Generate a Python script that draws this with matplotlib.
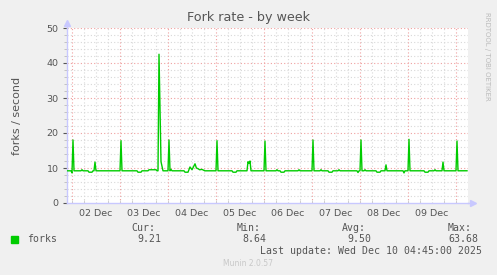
"""Munin 'Fork rate - by week' graph, redrawn with matplotlib."""

import matplotlib
matplotlib.use("Agg")
import matplotlib.pyplot as plt
import numpy as np

# hours since 02 Dec 00:00, and forks/second
hours = [
    -2.5, -0.5, 0, 0.5, 1.0, 4.5, 5, 5.5, 8, 8.5, 10, 10.5,
    11, 11.5, 12, 24, 24.5, 25, 32.5, 33, 34.5, 35,
    38, 38.5, 42, 42.5, 43, 43.5, 44.5, 45.5, 48, 48.5, 49, 49.5, 50,
    56, 56.5, 58, 59, 60, 61.5, 62.2, 63, 63.8, 65, 66.4,
    72, 72.5, 73, 80, 80.5, 82, 82.5, 87.5, 88, 88.5, 89, 89.5,
    96, 96.5, 97, 102, 102.5, 103, 104, 104.5, 106, 106.5,
    113, 113.5, 114, 120, 120.5, 121, 124, 124.5, 125,
    128, 128.5, 130, 130.5, 133, 133.5, 134,
    142.5, 143, 143.5, 144, 144.5, 145, 146, 146.5, 147,
    152, 152.5, 154, 154.5, 156.5, 157, 157.5,
    165.5, 166, 166.5, 168, 168.5, 169, 176, 176.5, 178, 178.5,
    181, 181.5, 182, 185, 185.5, 186, 192, 192.5, 193, 197.5,
]
forks = [
    9.2, 9.2, 8.6, 18.0, 9.2, 9.2, 9.5, 9.2, 9.2, 8.8, 8.8, 9.2,
    9.2, 11.7, 9.2, 9.2, 17.8, 9.2, 9.2, 8.8, 8.8, 9.2,
    9.2, 9.5, 9.5, 9.2, 9.2, 42.5, 11.8, 9.2, 9.2, 18.0, 9.2, 9.6, 9.2,
    9.2, 8.8, 8.8, 10.3, 9.5, 11.2, 10.0, 9.8, 9.5, 9.6, 9.2,
    9.2, 17.8, 9.2, 9.2, 8.8, 8.8, 9.2, 9.2, 11.8, 11.3, 12.0, 9.2,
    9.2, 17.7, 9.2, 9.2, 9.5, 9.2, 9.2, 8.8, 8.8, 9.2,
    9.2, 9.5, 9.2, 9.2, 18.0, 9.2, 9.2, 9.5, 9.2,
    9.2, 8.8, 8.8, 9.2, 9.2, 9.5, 9.2,
    9.2, 8.7, 9.2, 9.2, 18.0, 9.2, 9.2, 9.5, 9.2,
    9.2, 8.8, 8.8, 9.2, 9.2, 10.9, 9.2,
    9.2, 8.6, 9.2, 9.2, 18.2, 9.2, 9.2, 8.8, 8.8, 9.2,
    9.2, 9.5, 9.2, 9.2, 11.7, 9.2, 9.2, 17.7, 9.2, 9.21,
]

day_labels = ["02 Dec", "03 Dec", "04 Dec", "05 Dec",
              "06 Dec", "07 Dec", "08 Dec", "09 Dec"]
stat_names = ["Cur:", "Min:", "Avg:", "Max:"]
stat_values = ["9.21", "8.64", "9.50", "63.68"]

BG = "#F0F0F0"
GREEN = "#00CC00"
TXT = "#555555"
AXIS = "#C8C8FF"
MONO = "DejaVu Sans Mono"

W, H = 497, 275
fig = plt.figure(figsize=(W / 100, H / 100), dpi=100, facecolor=BG)
ax = fig.add_axes([67 / W, 1 - 203 / H, (468 - 67) / W, 175 / H])
ax.set_facecolor("white")

ax.set_xlim(-2.5, 198)
ax.set_ylim(0, 50)

# grid: grey dotted minor, red dotted major
dots = (0, (1, 2))
ax.set_yticks(np.arange(0, 51, 10))
ax.set_yticks(np.arange(0, 51, 2), minor=True)
for v in np.arange(2, 51, 2):
    col = "#F0A0A0" if v % 10 == 0 else "#D8D8D8"
    ax.axhline(v, color=col, lw=0.8, ls=dots, zorder=0)
for h in np.arange(0, 198, 6):
    col = "#F0A0A0" if h % 24 == 0 else "#D8D8D8"
    ax.axvline(h, color=col, lw=0.8, ls=dots, zorder=0)

ax.set_xticks(np.arange(len(day_labels)) * 24 + 12)
ax.set_xticklabels(day_labels)
ax.set_xticks(np.arange(0, 198, 6), minor=True)
ax.tick_params(axis="x", which="major", length=0, pad=4, labelsize=6.8, colors=TXT)
ax.tick_params(axis="x", which="minor", length=2, direction="in", color="#C8C8C8")
ax.tick_params(axis="y", which="major", length=3, pad=3, labelsize=6.8,
               colors=TXT, direction="out")
ax.tick_params(axis="y", which="minor", length=2, color="#BBBBBB")

for s in ["top", "right"]:
    ax.spines[s].set_visible(False)
for s in ["left", "bottom"]:
    ax.spines[s].set_color(AXIS)
    ax.spines[s].set_linewidth(1)

# axis arrows
ax.plot([0, 0], [1, 1.03], color=AXIS, lw=1, transform=ax.transAxes, clip_on=False)
ax.plot([1, 1.012], [0, 0], color=AXIS, lw=1, transform=ax.transAxes, clip_on=False)
ax.plot(0, 1.03, marker="^", ms=4, color=AXIS, transform=ax.transAxes, clip_on=False)
ax.plot(1.012, 0, marker=">", ms=4, color=AXIS, transform=ax.transAxes, clip_on=False)

ax.plot(hours, forks, color=GREEN, lw=1.0, zorder=3)

ax.set_ylabel("forks / second", fontsize=8, color=TXT, labelpad=18)

fig.text(248.5 / W, 1 - 18 / H, "Fork rate - by week", ha="center", va="center",
         fontsize=9.2, color=TXT)
fig.text(487 / W, 1 - 56 / H, "RRDTOOL / TOBI OETIKER", rotation=270,
         ha="center", va="center", fontsize=5, color="#BBBBBB")

# legend block
fig.patches.append(plt.Rectangle((11 / W, 1 - 243 / H), 7 / W, 7 / H,
                                 transform=fig.transFigure, color=GREEN))
fig.text(27 / W, 1 - 239.5 / H, "forks", fontsize=7.1, family=MONO, color=TXT,
         va="center")
for i, (name, val) in enumerate(zip(stat_names, stat_values)):
    right = 161 + i * 105.3
    fig.text((right - 30 + (1 if i == 3 else 0)) / W, 1 - 228 / H, name,
             fontsize=7.1, family=MONO, color=TXT, va="center")
    fig.text((right + (1 if i == 3 else 0)) / W, 1 - 239.5 / H, val,
             fontsize=7.1, family=MONO, color=TXT, va="center", ha="right")
fig.text(482 / W, 1 - 251.5 / H, "Last update: Wed Dec 10 04:45:00 2025",
         fontsize=7.1, family=MONO, color=TXT, va="center", ha="right")
fig.text(248 / W, 1 - 264 / H, "Munin 2.0.57", fontsize=5.5, color="#C8C8C8",
         va="center", ha="center")

fig.savefig("out.png", dpi=100, facecolor=BG)
